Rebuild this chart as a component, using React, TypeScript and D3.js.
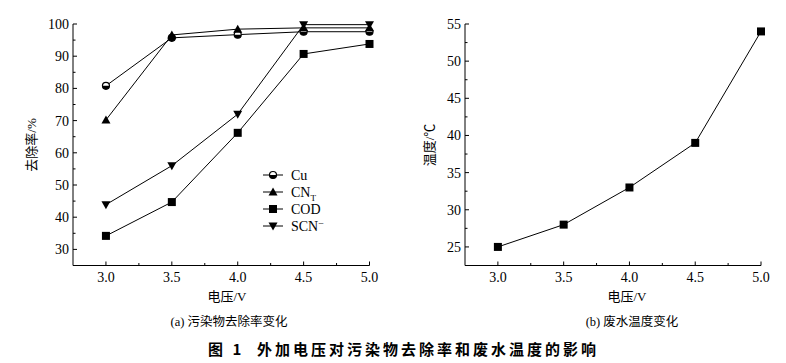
import React, { useRef, useEffect } from 'react';
import * as d3 from 'd3';

const voltages = [3.0, 3.5, 4.0, 4.5, 5.0];
const cuRemoval = [80.8, 95.7, 96.7, 97.6, 97.6];
const cnRemoval = [70.2, 96.6, 98.4, 98.8, 98.8];
const codRemoval = [34.2, 44.7, 66.2, 90.7, 93.8];
const scnRemoval = [43.9, 56.0, 72.0, 99.8, 99.8];
const temperature = [25, 28, 33, 39, 54];

const seriesNames = ['Cu', 'CN', 'COD', 'SCN'];
const xTicks = [3.0, 3.5, 4.0, 4.5, 5.0];
const leftTicks = [30, 40, 50, 60, 70, 80, 90, 100];
const rightTicks = [25, 30, 35, 40, 45, 50, 55];

const serif = '"Liberation Serif", "Times New Roman", "Noto Sans CJK SC", serif';
const cjk = '"Liberation Serif", "Noto Sans CJK SC", serif';

const App = () => {
  const ref = useRef(null);

  useEffect(() => {
    const svg = d3.select(ref.current);
    svg.selectAll('*').remove();

    const drawAxes = (g, x, y, majorY, minorY, xLeft, xRight, yTop, yBottom, fmtY) => {
      g.append('line').attr('x1', xLeft).attr('x2', xLeft).attr('y1', yTop).attr('y2', yBottom).attr('stroke', '#000');
      g.append('line').attr('x1', xLeft).attr('x2', xRight).attr('y1', yBottom).attr('y2', yBottom).attr('stroke', '#000');
      // x ticks (inward)
      xTicks.forEach(t => {
        g.append('line').attr('x1', x(t)).attr('x2', x(t)).attr('y1', yBottom).attr('y2', yBottom - 4).attr('stroke', '#000');
        g.append('text').attr('x', x(t)).attr('y', yBottom + 16).attr('text-anchor', 'middle')
          .attr('font-family', serif).attr('font-size', 14).text(t.toFixed(1));
      });
      [3.25, 3.75, 4.25, 4.75].forEach(t => {
        g.append('line').attr('x1', x(t)).attr('x2', x(t)).attr('y1', yBottom).attr('y2', yBottom - 2.5).attr('stroke', '#000');
      });
      majorY.forEach(t => {
        g.append('line').attr('x1', xLeft).attr('x2', xLeft + 4).attr('y1', y(t)).attr('y2', y(t)).attr('stroke', '#000');
        g.append('text').attr('x', xLeft - 4).attr('y', y(t)).attr('dy', '0.35em').attr('text-anchor', 'end')
          .attr('font-family', serif).attr('font-size', 14).text(fmtY(t));
      });
      minorY.forEach(t => {
        g.append('line').attr('x1', xLeft).attr('x2', xLeft + 2.5).attr('y1', y(t)).attr('y2', y(t)).attr('stroke', '#000');
      });
    };

    const marker = (g, kind, cx, cy) => {
      if (kind === 'Cu') {
        g.append('circle').attr('cx', cx).attr('cy', cy).attr('r', 3.5).attr('fill', '#fff').attr('stroke', '#000').attr('stroke-width', 1.2);
        g.append('path').attr('d', `M${cx - 3.5},${cy} A3.5,3.5 0 0 0 ${cx + 3.5},${cy} Z`).attr('fill', '#000');
      } else if (kind === 'CN') {
        g.append('path').attr('d', `M${cx},${cy - 4.5} L${cx + 4.5},${cy + 3.5} L${cx - 4.5},${cy + 3.5} Z`).attr('fill', '#000');
      } else if (kind === 'COD') {
        g.append('rect').attr('x', cx - 4).attr('y', cy - 4).attr('width', 8).attr('height', 8).attr('fill', '#000');
      } else {
        g.append('path').attr('d', `M${cx},${cy + 4.5} L${cx + 4.5},${cy - 3.5} L${cx - 4.5},${cy - 3.5} Z`).attr('fill', '#000');
      }
    };

    // ---- left panel
    const xa = d3.scaleLinear().domain([2.75, 5.0]).range([73, 369.5]);
    const ya = d3.scaleLinear().domain([25, 100]).range([265.5, 24]);
    const ga = svg.append('g');
    drawAxes(ga, xa, ya, leftTicks, [35, 45, 55, 65, 75, 85, 95], 73, 369.5, 24, 265.5, d => String(d));

    const removal = [cuRemoval, cnRemoval, codRemoval, scnRemoval];
    const line = d3.line().x(d => xa(d[0])).y(d => ya(d[1]));
    removal.forEach((vals, i) => {
      const pts = voltages.map((v, j) => [v, vals[j]]);
      ga.append('path').attr('d', line(pts)).attr('fill', 'none').attr('stroke', '#000').attr('stroke-width', 1);
    });
    removal.forEach((vals, i) => {
      voltages.forEach((v, j) => marker(ga, seriesNames[i], xa(v), ya(vals[j])));
    });

    // legend
    seriesNames.forEach((name, i) => {
      const ly = 175 + i * 17;
      ga.append('line').attr('x1', 263).attr('x2', 283).attr('y1', ly).attr('y2', ly).attr('stroke', '#000');
      marker(ga, name, 273, ly);
      const t = ga.append('text').attr('x', 291).attr('y', ly).attr('dy', '0.35em')
        .attr('font-family', serif).attr('font-size', 14);
      if (name === 'CN') {
        t.append('tspan').text('CN');
        t.append('tspan').attr('font-size', 9).attr('dy', 4).text('T');
      } else if (name === 'SCN') {
        t.append('tspan').text('SCN');
        t.append('tspan').attr('font-size', 10).attr('dy', -4).text('−');
      } else {
        t.text(name);
      }
    });

    ga.append('text').attr('transform', 'translate(36,145) rotate(-90)').attr('text-anchor', 'middle')
      .attr('font-family', cjk).attr('font-size', 13).text('去除率/%');
    ga.append('text').attr('x', 227).attr('y', 296).attr('dy', '0.35em').attr('text-anchor', 'middle')
      .attr('font-family', cjk).attr('font-size', 13).text('电压/V');
    ga.append('text').attr('x', 229).attr('y', 322).attr('dy', '0.35em').attr('text-anchor', 'middle')
      .attr('font-family', cjk).attr('font-size', 12.5).text('(a) 污染物去除率变化');

    // ---- right panel
    const xb = d3.scaleLinear().domain([2.75, 5.0]).range([465, 761]);
    const yb = d3.scaleLinear().domain([22.5, 55]).range([265.5, 24]);
    const gb = svg.append('g');
    drawAxes(gb, xb, yb, rightTicks, [27.5, 32.5, 37.5, 42.5, 47.5, 52.5], 465, 761, 24, 265.5, d => String(d));
    const lineB = d3.line().x(d => xb(d[0])).y(d => yb(d[1]));
    const ptsB = voltages.map((v, j) => [v, temperature[j]]);
    gb.append('path').attr('d', lineB(ptsB)).attr('fill', 'none').attr('stroke', '#000').attr('stroke-width', 1);
    ptsB.forEach(p => marker(gb, 'COD', xb(p[0]), yb(p[1])));

    gb.append('text').attr('transform', 'translate(434,145) rotate(-90)').attr('text-anchor', 'middle')
      .attr('font-family', cjk).attr('font-size', 13).text('温度/℃');
    gb.append('text').attr('x', 627).attr('y', 296).attr('dy', '0.35em').attr('text-anchor', 'middle')
      .attr('font-family', cjk).attr('font-size', 13).text('电压/V');
    gb.append('text').attr('x', 632).attr('y', 322).attr('dy', '0.35em').attr('text-anchor', 'middle')
      .attr('font-family', cjk).attr('font-size', 12.5).text('(b) 废水温度变化');

    // caption
    svg.append('text').attr('x', 208).attr('y', 350).attr('dy', '0.35em')
      .attr('font-family', '"Noto Sans CJK SC", sans-serif').attr('font-weight', 'bold').attr('font-size', 15)
      .attr('letter-spacing', 3).attr('xml:space', 'preserve').text('图 1  外加电压对污染物去除率和废水温度的影响');
  });

  return (
    <svg ref={ref} width={786} height={363}
      style={{ position: 'absolute', left: 0, top: 0, background: '#fff' }} />
  );
};

export default App;
